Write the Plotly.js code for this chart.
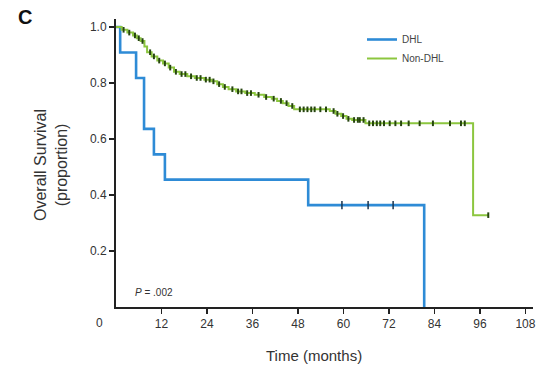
<!DOCTYPE html>
<html><head><meta charset="utf-8">
<script src="https://cdn.plot.ly/plotly-3.0.1.min.js"></script>
<style>html,body{margin:0;padding:0;background:#fff}#c{width:539px;height:370px}</style>
</head><body><div id="c"></div>
<script>
// DHL (blue) Kaplan-Meier steps
const dhlTime = [0, 1.1, 5.3, 7.4, 10.0, 12.9, 50.7, 81.3];
const dhlSurv = [1.0, 0.909, 0.818, 0.636, 0.545, 0.455, 0.364, 0.0];
const dhlCensor = [59.6, 66.5, 73.1];

// Non-DHL (green) Kaplan-Meier steps
const nonTime = [0, 1.5, 3, 4.5, 5.5, 6.5, 7.5, 8.2, 9.4, 10.9, 12.4, 13.9, 15.3, 16.8, 18.8, 20.8, 23.3, 25.2, 26.7, 28.2, 29.7, 31.7, 34.1, 36.6, 39.1, 41.1, 42.5, 44, 45.5, 47, 56.4, 57.9, 59.4, 60.8, 62.3, 65.8, 94.2, 98.2];
const nonSurv = [1.0, 0.99, 0.98, 0.97, 0.96, 0.95, 0.93, 0.91, 0.895, 0.88, 0.87, 0.855, 0.84, 0.832, 0.824, 0.818, 0.812, 0.806, 0.796, 0.786, 0.778, 0.77, 0.764, 0.758, 0.75, 0.744, 0.736, 0.728, 0.718, 0.706, 0.70, 0.69, 0.682, 0.672, 0.668, 0.656, 0.328, 0.328];
const nonCensor = [2, 3.5, 5, 6, 7, 9, 10, 11.4, 12.9, 14.3, 15.8, 17.3, 18.3, 19.8, 21.3, 22.3, 23.7, 24.7, 25.7, 27.2, 28.7, 30.7, 32.2, 33.1, 34.6, 35.6, 37.6, 39.6, 41.6, 43.5, 45, 46.5, 48.5, 49.5, 50.5, 51.5, 52.4, 53.9, 55.4, 57.4, 58.4, 59.9, 61.3, 62.8, 63.8, 64.3, 65.3, 66.8, 67.8, 68.8, 69.7, 70.7, 72.2, 73.7, 75.2, 77.2, 80.1, 83.6, 88.1, 91, 92, 98.2];

const xTicks = [12, 24, 36, 48, 60, 72, 84, 96, 108];
const xTickText = ['12', '24', '36', '48', '60', '72', '84', '96', '108'];
const yTicks = [0.2, 0.4, 0.6, 0.8, 1.0];
const yTickText = ['0.2', '0.4', '0.6', '0.8', '1.0'];

function stepAt(times, surv, t) {
  let v = surv[0];
  for (let i = 0; i < times.length; i++) { if (times[i] <= t) v = surv[i]; }
  return v;
}

const W = 417, H = 288, L = 116, B = 307;
const blue = '#2e8bd6', green = '#8cc63f', dark = '#26450f';
const traces = [
  {x: dhlTime, y: dhlSurv, mode: 'lines', line: {shape: 'hv', color: blue, width: 2.6}, name: 'DHL'},
  {x: nonTime, y: nonSurv, mode: 'lines', line: {shape: 'hv', color: green, width: 2}, name: 'Non-DHL'},
  {x: nonCensor, y: nonCensor.map(t => stepAt(nonTime, nonSurv, t)), mode: 'markers', showlegend: false,
   marker: {symbol: 'line-ns', size: 4, line: {color: dark, width: 2}}},
  {x: dhlCensor, y: dhlCensor.map(t => stepAt(dhlTime, dhlSurv, t)), mode: 'markers', showlegend: false,
   marker: {symbol: 'line-ns', size: 6, line: {color: '#1a3550', width: 1.5}}}
];

const font = {family: 'Liberation Sans, Arial, sans-serif', color: '#333'};
const layout = {
  width: 539, height: 370,
  margin: {l: L, r: 539 - L - W, t: 370 - 63 - H, b: 63},
  paper_bgcolor: '#fff', plot_bgcolor: '#fff',
  font: font,
  showlegend: true,
  legend: {x: (362 - L) / W, y: (B - 25) / H, xanchor: 'left', yanchor: 'top', font: {size: 10, color: '#444'},
           bgcolor: 'rgba(0,0,0,0)', tracegroupgap: 0, itemwidth: 30},
  xaxis: {range: [0, 110], tickvals: xTicks, ticktext: xTickText, showgrid: false, zeroline: false,
          showline: true, linecolor: '#222', linewidth: 2, ticks: 'outside', ticklen: 5, tickwidth: 1.5,
          tickcolor: '#222', tickfont: {size: 12, color: '#333'}},
  yaxis: {range: [0, 1.0286], tickvals: yTicks, ticktext: yTickText, showgrid: false, zeroline: false,
          showline: true, linecolor: '#222', linewidth: 2, ticks: 'outside', ticklen: 5, tickwidth: 1.5,
          tickcolor: '#222', tickfont: {size: 12, color: '#333'}},
  annotations: [
    {text: '<b>C</b>', xref: 'paper', yref: 'paper', x: (25 - L) / W, y: (B - 17) / H,
     xanchor: 'center', yanchor: 'middle', showarrow: false, font: {size: 20, color: '#111'}},
    {text: '0', xref: 'paper', yref: 'paper', x: (99 - L) / W, y: (B - 323) / H,
     xanchor: 'center', yanchor: 'middle', showarrow: false, font: {size: 12, color: '#333'}},
    {text: 'Overall Survival<br>(proportion)', xref: 'paper', yref: 'paper', x: (51 - L) / W, y: (B - 165) / H,
     xanchor: 'center', yanchor: 'middle', showarrow: false, textangle: -90, font: {size: 16, color: '#333'}},
    {text: 'Time (months)', xref: 'paper', yref: 'paper', x: (314 - L) / W, y: (B - 355) / H,
     xanchor: 'center', yanchor: 'middle', showarrow: false, font: {size: 15, color: '#333'}},
    {text: '<i>P</i> = .002', xref: 'paper', yref: 'paper', x: (133 - L) / W, y: (B - 292) / H,
     xanchor: 'left', yanchor: 'middle', showarrow: false, font: {size: 10, color: '#333'}}
  ]
};
Plotly.newPlot('c', traces, layout, {displayModeBar: false, staticPlot: true});
</script></body></html>
